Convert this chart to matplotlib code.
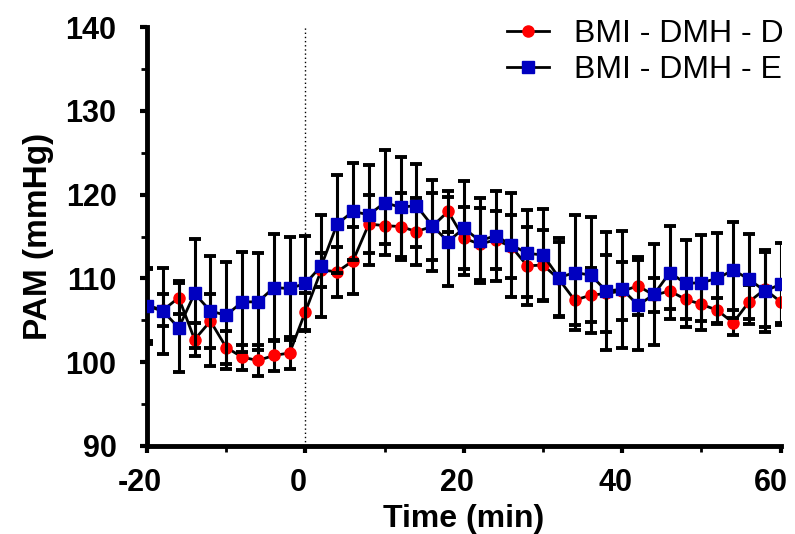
import matplotlib.pyplot as plt
import matplotlib.transforms as mtrans
import numpy as np
from matplotlib.lines import Line2D

# time points (min)
t = np.arange(-20, 61, 2)

# BMI - DMH - D (red circles)
pam_d = [106.8, 106.2, 107.7, 102.7, 104.9, 101.75, 100.6, 100.2, 100.8, 101.1,
         106.05, 111.0, 110.8, 112.1, 116.5, 116.3, 116.2, 115.6, 116.2, 118.0,
         114.8, 114.1, 114.6, 113.8, 111.5, 111.6, 109.9, 107.4, 108.0, 108.2,
         108.5, 109.1, 108.0, 108.5, 107.5, 106.9, 106.2, 104.7, 107.2, 108.7,
         107.2]
sem_d = [4.3, 1.9, 2.0, 2.0, 3.2, 2.0, 1.5, 1.8, 1.9, 1.9,
         2.2, 2.0, 3.0, 4.0, 3.5, 2.2, 4.0, 4.0, 4.0, 2.5,
         3.7, 4.3, 3.5, 3.8, 4.7, 4.2, 4.4, 3.0, 3.2, 4.6,
         3.5, 3.5, 2.0, 2.2, 2.3, 2.0, 1.5, 1.5, 2.0, 4.5,
         2.5]

# BMI - DMH - E (blue squares)
pam_e = [106.7, 106.1, 104.1, 108.2, 106.1, 105.6, 107.2, 107.2, 108.9, 108.8,
         109.4, 111.5, 116.5, 118.0, 117.6, 119.05, 118.5, 118.7, 116.3, 114.4,
         116.0, 114.5, 115.1, 114.0, 113.0, 112.8, 110.1, 110.7, 110.4, 108.5,
         108.7, 106.8, 108.1, 110.7, 109.4, 109.5, 110.0, 111.0, 109.9, 108.5,
         109.3]
sem_e = [4.5, 5.1, 5.3, 6.5, 6.6, 6.4, 6.0, 5.8, 6.4, 6.1,
         5.7, 6.1, 5.8, 5.8, 6.0, 6.3, 6.0, 5.0, 5.4, 5.3,
         5.6, 5.1, 5.4, 6.2, 5.2, 5.5, 4.7, 6.9, 6.9, 7.1,
         7.0, 5.4, 6.0, 5.6, 5.2, 5.7, 5.4, 5.7, 5.4, 4.9,
         4.9]

plt.rcParams['font.family'] = ['Liberation Sans', 'DejaVu Sans']
plt.rcParams['axes.unicode_minus'] = False

fig = plt.figure(figsize=(7.95, 5.34), dpi=100)
ax = fig.add_axes([0.185, 0.165, 0.797, 0.784])

ax.axvline(0, color='black', lw=1, ls=(0, (1, 2)), zorder=1)

ax.errorbar(t, pam_d, yerr=sem_d, color='black', lw=2, elinewidth=2.2,
            capsize=4.5, capthick=2.8, marker='o', ms=8, mfc='#ff0000',
            mec='#ff0000', zorder=2)
ax.errorbar(t, pam_e, yerr=sem_e, color='black', lw=2, elinewidth=2.2,
            capsize=4.5, capthick=2.8, marker='s', ms=8.5, mfc='#0000c0',
            mec='#0000c0', zorder=3)

ax.set_xlim(-20, 60)
ax.set_ylim(90, 140)
ax.set_xticks([-20, 0, 20, 40, 60])
ax.set_xticks([-10, 10, 30, 50], minor=True)
ax.set_yticks([90, 100, 110, 120, 130, 140])
ax.set_yticks([95, 105, 115, 125, 135], minor=True)

for s in ['top', 'right']:
    ax.spines[s].set_visible(False)
for s in ['left', 'bottom']:
    ax.spines[s].set_linewidth(3.5)
ax.tick_params(which='major', length=5, width=3)
ax.tick_params(which='minor', length=4, width=2)
ax.tick_params(axis='y', which='major', pad=17)
ax.tick_params(axis='x', which='major', pad=11)
ax.tick_params(labelsize=22)
for lab in ax.get_xticklabels() + ax.get_yticklabels():
    lab.set_fontweight('bold')

# x tick labels sit slightly left of their ticks in the original
xlabs = ax.get_xticklabels()
for i, lab in enumerate(xlabs):
    dx = -10 if i == len(xlabs) - 1 else -7
    lab.set_transform(lab.get_transform() + mtrans.ScaledTranslation(dx / 100, 0, fig.dpi_scale_trans))

ax.set_xlabel('Time (min)', fontsize=23, fontweight='bold', labelpad=4)
ax.set_ylabel('PAM (mmHg)', fontsize=24, fontweight='bold', labelpad=8)

handles = [
    Line2D([], [], color='black', lw=2, marker='o', ms=8, mfc='#ff0000', mec='#ff0000'),
    Line2D([], [], color='black', lw=2, marker='s', ms=8.5, mfc='#0000c0', mec='#0000c0'),
]
ax.legend(handles, ['BMI - DMH - D', 'BMI - DMH - E'], loc='upper right',
          frameon=False, fontsize=23, handlelength=1.3, borderaxespad=0,
          bbox_to_anchor=(1.025, 1.05), handletextpad=0.8, labelspacing=0.2)

fig.savefig('out.png', dpi=100)
